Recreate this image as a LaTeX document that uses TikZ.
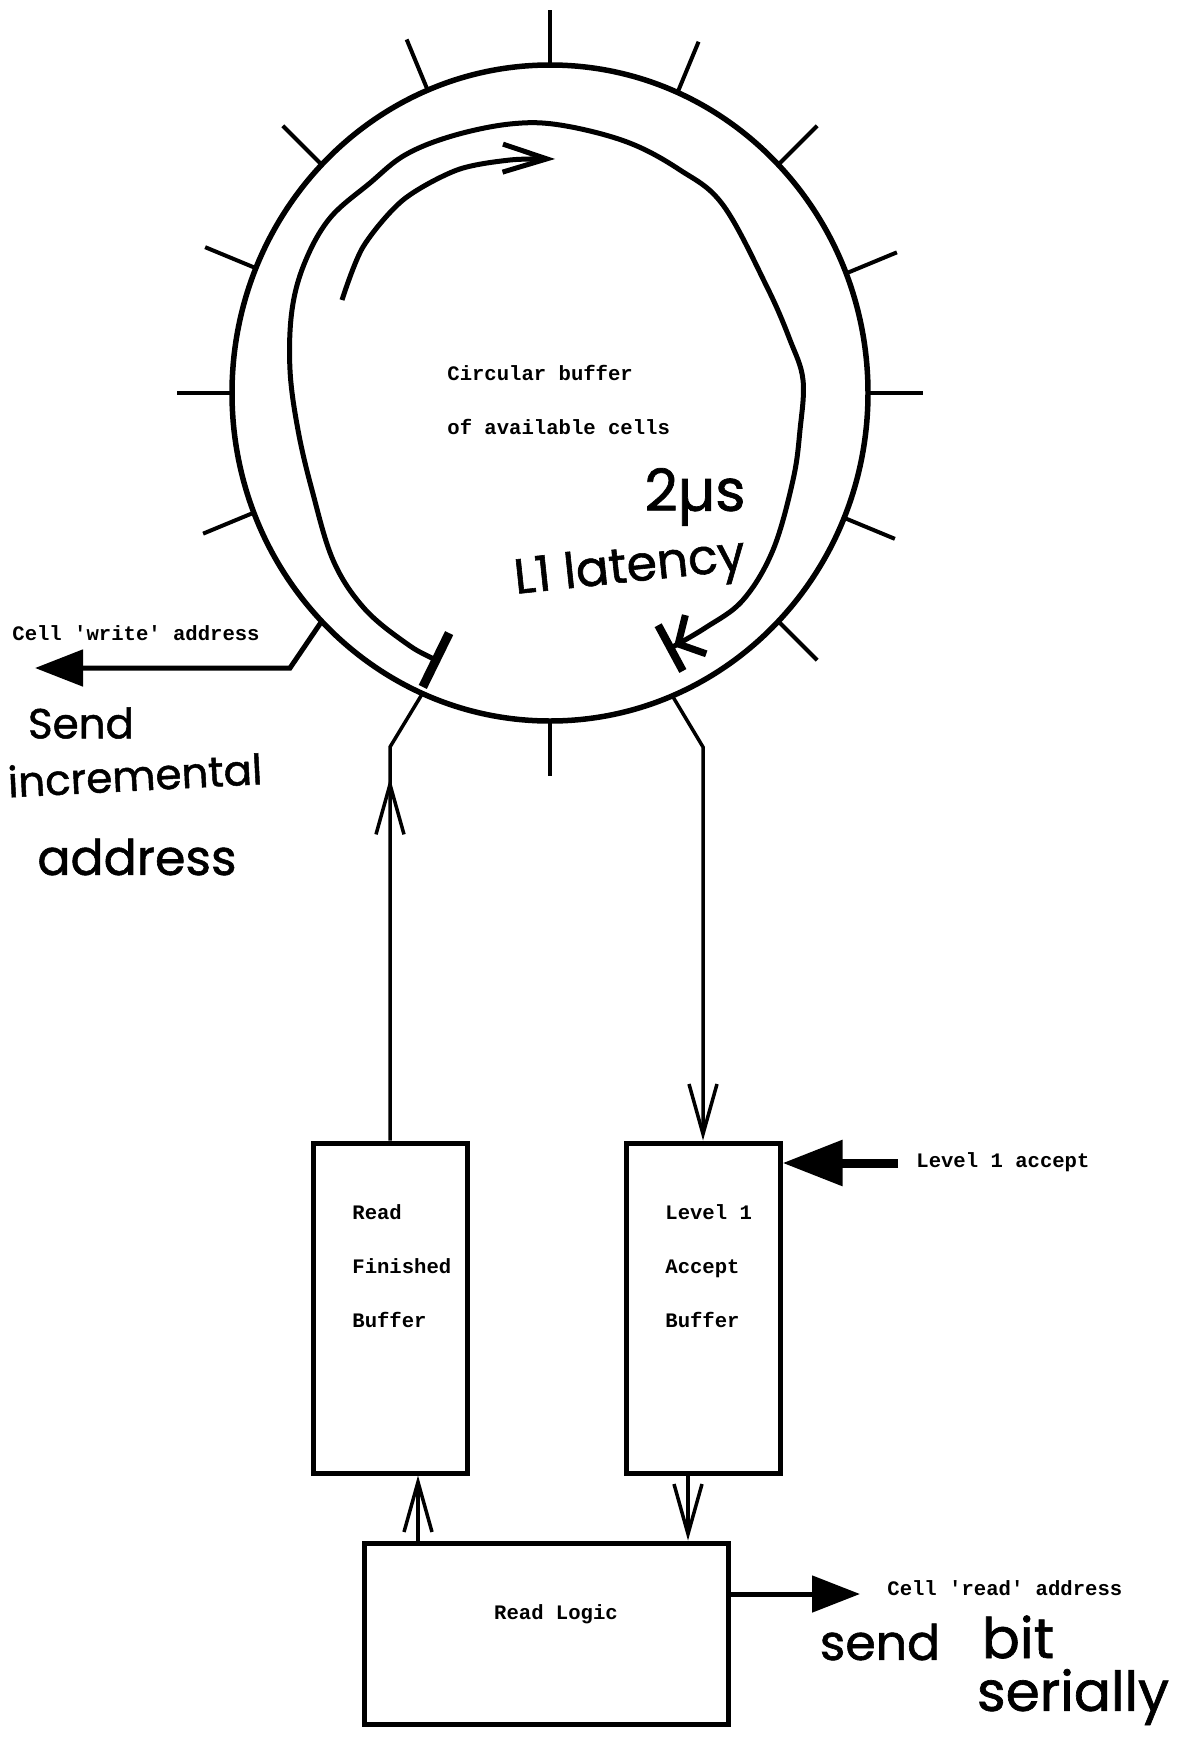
\documentclass[tikz,border=0pt]{standalone}
\usepackage{fontspec}
\setmonofont{Liberation Mono}
\newfontfamily\handfont{Poppins}[FakeBold=1.2]
\usetikzlibrary{arrows.meta,shapes.geometric,decorations.markings}

\begin{document}
\begin{tikzpicture}[x=0.5pt, y=-0.5pt,
  ring/.style={draw, ellipse, line width=2.75pt, minimum width=318pt, minimum height=328pt, inner sep=0pt, outer sep=0pt},
  tick/.style={line width=2pt},
  buf/.style={draw, line width=2.5pt, minimum width=77pt, minimum height=165pt, inner sep=0pt},
  logicbox/.style={draw, line width=2.5pt, minimum width=182pt, minimum height=90.5pt, inner sep=0pt},
  wire/.style={line width=1.75pt},
  heavy/.style={line width=2.5pt},
  vhead/.style={-{Straight Barb[length=25pt,width=14pt]}},
  fathead/.style={-{Triangle[length=24pt,width=18pt]}},
  ttext/.style={font=\ttfamily\bfseries\fontsize{10.3}{27}\selectfont, inner sep=0pt, align=left},
  hand/.style={font=\handfont\fontsize{#1}{#1}\selectfont, inner sep=0pt},
]
\useasboundingbox (0,0) rectangle (1177,1761);

\node[ring] (ring) at (550,393) {};
\foreach \a in {0,22.5,45,67.5,90,112.5,135,157.5,180,202.5,270,315,337.5}
  \draw[tick] (ring.\a) -- ++(\a:27.5pt);
\node[ttext, anchor=west] (ringtext) at (447,399.5) {Circular buffer\\of available cells};

\draw[heavy, {Bar[width=30pt,line width=4.5pt]}-{Straight Barb[length=10pt,width=22pt,line width=3.5pt] Bar[width=26pt,line width=4pt]}]
  plot[smooth, tension=0.6] coordinates {(440,662) (403,641) (363,607) (333,560) (312,490) (298,430) (290,370) (292,310) (305,262) (330,218) (370,183) (405,155) (452,136) (510,124) (560,125) (627,142) (680,170) (723,205) (767,287) (790,340) (803,380) (800,430) (793,480) (773,550) (743,600) (705,628) (667,650)};
\draw[heavy, -{Straight Barb[length=22pt,width=14pt]}]
  plot[smooth] coordinates {(342,300) (363,247) (403,200) (457,170) (510,160) (555,159)};

\node[buf] (rfb) at (390,1308) {};
\node[buf] (l1b) at (703,1308) {};
\node[logicbox] (logic) at (546,1633.5) {};
\node[ttext, anchor=west] (rfbtext) at (352,1266) {Read\\Finished\\Buffer};
\node[ttext, anchor=west] (l1btext) at (665,1266) {Level 1\\Accept\\Buffer};
\node[ttext] (logictext) at (556,1614) {Read Logic};

\coordinate (wbend) at (290,668);
\coordinate (wout) at (35,668);
\draw[heavy, fathead] (ring.225) -- (wbend) -- (wout);
\node[ttext, anchor=west] (wtext) at (12,633) {Cell 'write' address};

\coordinate (rfbend) at (390,747);
\draw[wire, postaction={decorate}, decoration={markings, mark=at position 0.795 with {\arrow{Straight Barb[length=25pt,width=14pt]}}}]
  (rfb.north) -- (rfbend) -- (ring.247.5);
\coordinate (l1bend) at (703,747);
\draw[wire, vhead] (ring.292.5) -- (l1bend) -- (l1b.north);

\coordinate (rfin) at ([xshift=14pt]rfb.south);
\draw[wire, vhead] (rfin |- logic.north) -- (rfin);
\coordinate (l1out) at ([xshift=-7.5pt]l1b.south);
\draw[wire, vhead] (l1out) -- (l1out |- logic.north);

\coordinate (rout) at (860,1594);
\draw[heavy, fathead] (logic.east |- rout) -- (rout);
\node[ttext, anchor=west] (rtext) at (887,1588) {Cell 'read' address};

\coordinate (l1in) at (898,1163);
\draw[line width=4.5pt, -{Triangle[length=30pt,width=22pt]}] (l1in) -- (l1in -| l1b.east);
\node[ttext, anchor=west] (l1text) at (916,1162) {Level 1 accept};

\node[hand=21] (sendnote) at (81,723) {Send};
\node[hand=21, rotate=3] (incnote) at (135,775) {incremental};
\node[hand=24.5] (addrnote) at (137,857) {address};
\node[hand=29] (usnote) at (695,497) {2µs};
\node[hand=24.5, rotate=6] (latnote) at (630,570) {L1 latency};
\node[hand=24.5] (sendbit) at (880,1642) {send};
\node[hand=28] (bitnote) at (1018,1637) {bit};
\node[hand=27.5] (sernote) at (1073,1697) {serially};
\end{tikzpicture}
\end{document}
